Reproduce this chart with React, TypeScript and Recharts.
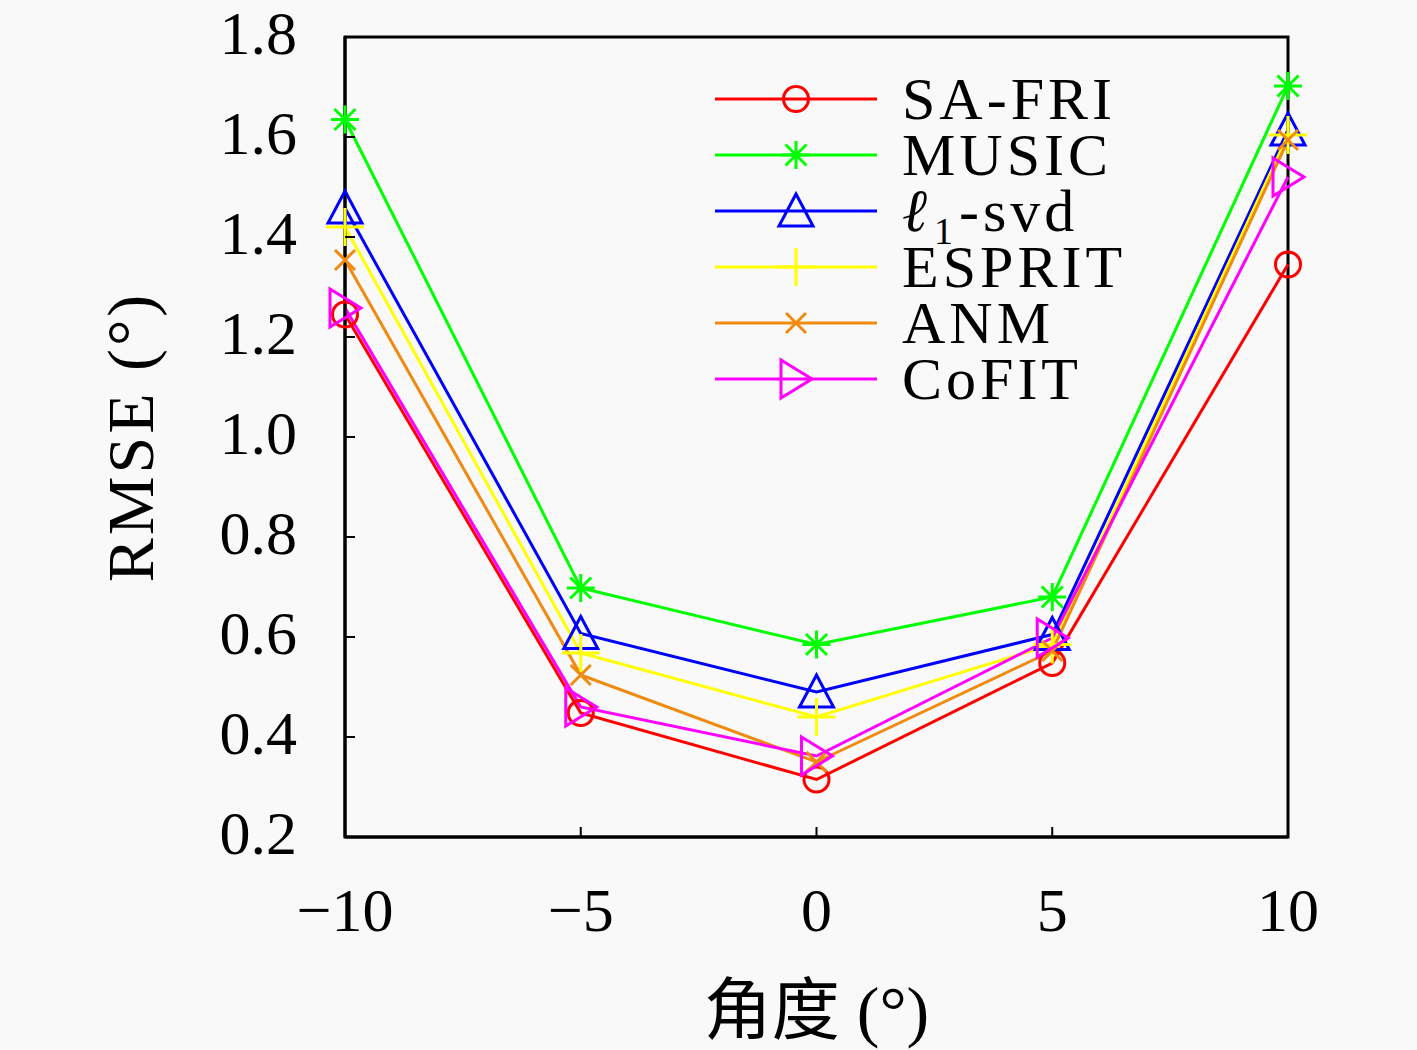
import { Label, Legend, Line, LineChart, ReferenceArea, XAxis, YAxis } from 'recharts';

// 角度(°) vs RMSE(°)
const angles = [-10, -5, 0, 5, 10];
const saFri = [1.245, 0.448, 0.315, 0.548, 1.345];
const music = [1.635, 0.698, 0.585, 0.68, 1.702];
const l1Svd = [1.458, 0.607, 0.49, 0.605, 1.614];
const esprit = [1.42, 0.568, 0.44, 0.585, 1.604];
const anm = [1.354, 0.524, 0.35, 0.572, 1.594];
const cofit = [1.258, 0.46, 0.362, 0.598, 1.52];

const xTicks = [-10, -5, 0, 5, 10];
const yTicks = [0.2, 0.4, 0.6, 0.8, 1.0, 1.2, 1.4, 1.6, 1.8];

const FONT = "'Liberation Serif', 'Noto Sans CJK SC', serif";

type Marker = 'circle' | 'star' | 'triUp' | 'plus' | 'cross' | 'triRight';

const SERIES: { key: string; name: string; color: string; marker: Marker; values: number[] }[] = [
  { key: 'saFri', name: 'SA-FRI', color: '#ff0000', marker: 'circle', values: saFri },
  { key: 'music', name: 'MUSIC', color: '#00ff00', marker: 'star', values: music },
  { key: 'l1Svd', name: 'l1-svd', color: '#0000ff', marker: 'triUp', values: l1Svd },
  { key: 'esprit', name: 'ESPRIT', color: '#ffff00', marker: 'plus', values: esprit },
  { key: 'anm', name: 'ANM', color: '#f08a10', marker: 'cross', values: anm },
  { key: 'cofit', name: 'CoFIT', color: '#ff00ff', marker: 'triRight', values: cofit },
];

const data = angles.map((a, i) => {
  const row: Record<string, number> = { angle: a };
  SERIES.forEach((s) => (row[s.key] = s.values[i]));
  return row;
});

function MarkerShape({ kind, cx, cy, color }: { kind: Marker; cx: number; cy: number; color: string }) {
  const p = { stroke: color, strokeWidth: 3, fill: 'none' };
  switch (kind) {
    case 'circle':
      return <circle cx={cx} cy={cy} r={12.5} {...p} />;
    case 'star': {
      const r = 14;
      const d = r * 0.75;
      return (
        <path
          d={`M${cx},${cy - r}V${cy + r}M${cx - r},${cy}H${cx + r}M${cx - d},${cy - d}L${cx + d},${cy + d}M${cx - d},${cy + d}L${cx + d},${cy - d}`}
          {...p}
        />
      );
    }
    case 'triUp':
      return <path d={`M${cx},${cy - 17}L${cx + 17},${cy + 15}L${cx - 17},${cy + 15}Z`} {...p} />;
    case 'plus':
      return <path d={`M${cx},${cy - 19}V${cy + 19}M${cx - 19},${cy}H${cx + 19}`} {...p} />;
    case 'cross':
      return <path d={`M${cx - 10},${cy - 10}L${cx + 10},${cy + 10}M${cx - 10},${cy + 10}L${cx + 10},${cy - 10}`} {...p} />;
    case 'triRight':
      return <path d={`M${cx - 15},${cy - 19}L${cx + 16},${cy}L${cx - 15},${cy + 19}Z`} {...p} />;
  }
}

const fmtX = (v: number) => (v < 0 ? `\u2212${Math.abs(v)}` : `${v}`);

function XTick({ x, y, payload }: any) {
  return (
    <g>
      <line x1={x} y1={y} x2={x} y2={y - 10} stroke="#000" strokeWidth={2} />
      <text x={x} y={y + 73} textAnchor="middle" dominantBaseline="central" fontFamily={FONT} fontSize={62} fill="#000">
        {fmtX(payload.value)}
      </text>
    </g>
  );
}

function YTick({ x, y, payload }: any) {
  return (
    <g>
      <line x1={x} y1={y} x2={x + 10} y2={y} stroke="#000" strokeWidth={2} />
      <text x={x - 48} y={y - 4} textAnchor="end" dominantBaseline="central" fontFamily={FONT} fontSize={62} fill="#000">
        {payload.value.toFixed(1)}
      </text>
    </g>
  );
}

function LegendBox() {
  return (
    <div style={{ fontFamily: FONT, fontSize: 60, color: '#000', letterSpacing: 4 }}>
      {SERIES.map((s) => (
        <div key={s.key} style={{ display: 'flex', alignItems: 'center', height: 56 }}>
          <svg width={187} height={56} style={{ flex: 'none' }}>
            <line x1={0} y1={28} x2={162} y2={28} stroke={s.color} strokeWidth={3} />
            <MarkerShape kind={s.marker} cx={81} cy={28} color={s.color} />
          </svg>
          <span style={{ lineHeight: '56px', whiteSpace: 'nowrap' }}>
            {s.key === 'l1Svd' ? (
              <>
                <i>ℓ</i>
                <sub style={{ fontSize: 38, marginLeft: 3, marginRight: 2, lineHeight: 0 }}>1</sub>-svd
              </>
            ) : (
              s.name
            )}
          </span>
        </div>
      ))}
    </div>
  );
}

export default function App() {
  return (
    <div style={{ position: 'absolute', left: 0, top: 0, width: 1417, height: 1050, background: '#f9f9f9' }}>
      <LineChart width={1417} height={1050} data={data} margin={{ top: 37, right: 129, bottom: 0, left: 0 }}>
        <XAxis
          dataKey="angle"
          type="number"
          domain={[-10, 10]}
          ticks={xTicks}
          tick={<XTick />}
          tickSize={0}
          tickMargin={0}
          tickLine={false}
          axisLine={{ stroke: '#000', strokeWidth: 3 }}
          height={213}
          interval={0}
        >
          <Label
            content={({ viewBox }: any) => (
              <text
                x={viewBox.x + viewBox.width / 2}
                y={viewBox.y + 174}
                textAnchor="middle"
                dominantBaseline="central"
                fontFamily={FONT}
                fontSize={68}
                fill="#000"
              >
                角度 (°)
              </text>
            )}
          />
        </XAxis>
        <YAxis
          type="number"
          domain={[0.2, 1.8]}
          ticks={yTicks}
          tick={<YTick />}
          tickSize={0}
          tickMargin={0}
          tickLine={false}
          axisLine={{ stroke: '#000', strokeWidth: 3 }}
          width={345}
          interval={0}
        >
          <Label
            content={({ viewBox }: any) => {
              const cx = viewBox.x + 130;
              const cy = viewBox.y + viewBox.height / 2;
              return (
                <text
                  x={cx}
                  y={cy}
                  transform={`rotate(-90, ${cx}, ${cy})`}
                  textAnchor="middle"
                  dominantBaseline="central"
                  fontFamily={FONT}
                  fontSize={66}
                  letterSpacing={3}
                  fill="#000"
                >
                  RMSE (°)
                </text>
              );
            }}
          />
        </YAxis>
        <ReferenceArea x1={-10} x2={10} y1={0.2} y2={1.8} fill="none" stroke="#000" strokeWidth={3} ifOverflow="visible" />
        {SERIES.map((s) => (
          <Line
            key={s.key}
            dataKey={s.key}
            name={s.name}
            stroke={s.color}
            strokeWidth={3}
            isAnimationActive={false}
            dot={(props: any) => (
              <MarkerShape key={`${s.key}-${props.index}`} kind={s.marker} cx={props.cx} cy={props.cy} color={s.color} />
            )}
            activeDot={false}
          />
        ))}
        <Legend
          layout="vertical"
          align="center"
          verticalAlign="middle"
          content={() => <LegendBox />}
          wrapperStyle={{ position: 'absolute', left: 715, top: 71, width: 'auto', height: 'auto' }}
        />
      </LineChart>
    </div>
  );
}
